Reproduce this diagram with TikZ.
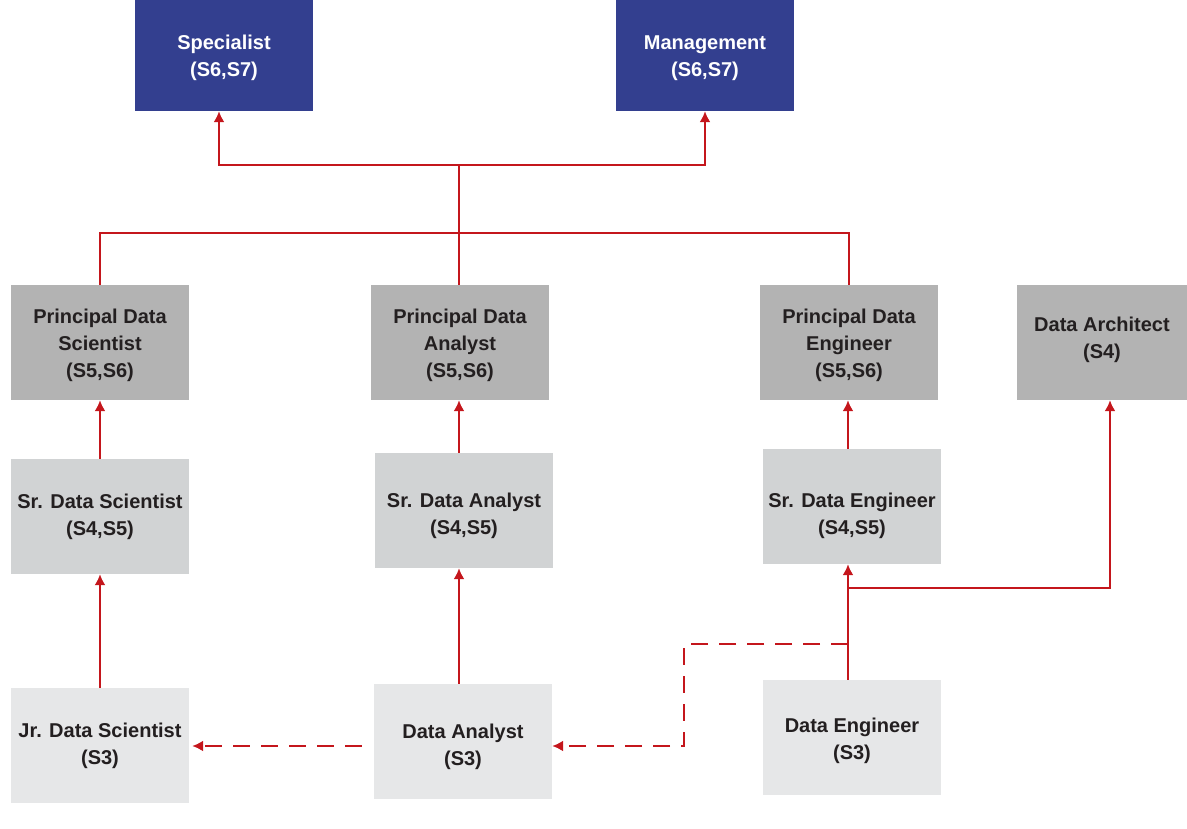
\documentclass[tikz,border=0pt]{standalone}
\usepackage{fontspec}
\setmainfont{Liberation Sans}
\usepackage{tikz}
\usetikzlibrary{positioning, arrows.meta}
\definecolor{navy}{HTML}{333F8F}
\definecolor{leadgray}{HTML}{B3B3B3}
\definecolor{srgray}{HTML}{D1D3D4}
\definecolor{jrgray}{HTML}{E6E7E8}
\definecolor{ink}{HTML}{231F20}
\definecolor{path}{HTML}{C4161C}
\tikzset{
    block/.style={
        minimum width = 178pt,
        minimum height = 115pt,
        inner sep = 0pt,
        align = center,
        text = ink,
        font = \bfseries\fontsize{20}{27}\selectfont
    },
    headbox/.style = {block, fill=navy, text=white, minimum height=111pt},
    leadbox/.style = {block, fill=leadgray},
    seniorbox/.style = {block, fill=srgray},
    juniorbox/.style = {block, fill=jrgray},
    line/.style = {-{Latex[length=11pt,width=11pt]}, draw=path, line width=2pt},
    joint/.style = {draw=path, line width=2pt},
    dline/.style = {line, dash pattern=on 17pt off 11pt}
}
\begin{document}
\begin{tikzpicture}[x=1pt, y=-1pt]

    \useasboundingbox (0,0) rectangle (1187,829);

    % Blocks
    \node[headbox] (specialist) at (224,55.5) {\mbox{}\\[-8.5pt]Specialist\\(S6,S7)};
    \node[headbox] (mgmt) at (705,55.5) {\mbox{}\\[-8.5pt]Management\\(S6,S7)};

    \node[leadbox] (pds) at (100,342.5) {\mbox{}\\[-7.5pt]Principal Data\\Scientist\\(S5,S6)};
    \node[leadbox] (pda) at (460,342.5) {\mbox{}\\[-7.5pt]Principal Data\\Analyst\\(S5,S6)};
    \node[leadbox] (pde) at (849,342.5) {\mbox{}\\[-7.5pt]Principal Data\\Engineer\\(S5,S6)};
    \node[block, fill=leadgray, minimum width=170pt] (arch) at (1102,342.5) {Data Architect\\(S4)\\[-18pt]};

    \node[seniorbox] (srds) at (100,516.5) {Sr. Data Scientist\\(S4,S5)};
    \node[seniorbox] (srda) at (464,510.5) {\mbox{}\\[-2.5pt]Sr. Data Analyst\\(S4,S5)};
    \node[seniorbox] (srde) at (852,506.5) {\mbox{}\\[6.5pt]Sr. Data Engineer\\(S4,S5)};

    \node[juniorbox] (jrds) at (100,745.5) {Jr. Data Scientist\\(S3)};
    \node[juniorbox] (da) at (463,741.5) {\mbox{}\\[-1pt]Data Analyst\\(S3)};
    \node[juniorbox] (de) at (852,737.5) {\mbox{}\\[-6pt]Data Engineer\\(S3)};

    % Joints
    \coordinate (fork) at (459,165);
    \coordinate (bar) at (459,233);
    \coordinate (split) at (848,588);
    \coordinate (dsplit) at (848,644);
    \coordinate (dturn) at (684,746);

    % Lines
    \draw[line] ([xshift=-1pt]pda.north) -- (fork) -| ([xshift=-5pt]specialist.south);
    \draw[line] (fork) -| (mgmt.south);
    \draw[joint] (pds.north) |- (bar) -| (pde.north);

    \draw[line] (jrds) -- (srds);
    \draw[line] (srds) -- (pds);
    \draw[line] (da.north -| fork) -- (srda.south -| fork);
    \draw[line] (srda.north -| fork) -- (pda.south -| fork);
    \draw[line] (de.north -| split) -- (srde.south -| split);
    \draw[line] (srde.north -| split) -- (pde.south -| split);
    \draw[line] (split) -| ([xshift=8pt]arch.south);

    % Dashed links
    \draw[dline] (dsplit) -| (dturn) -- (da.east |- dturn);
    \draw[dline] ([xshift=-12pt]da.west |- dturn) -- ([xshift=3pt]jrds.east |- dturn);

\end{tikzpicture}
\end{document}
